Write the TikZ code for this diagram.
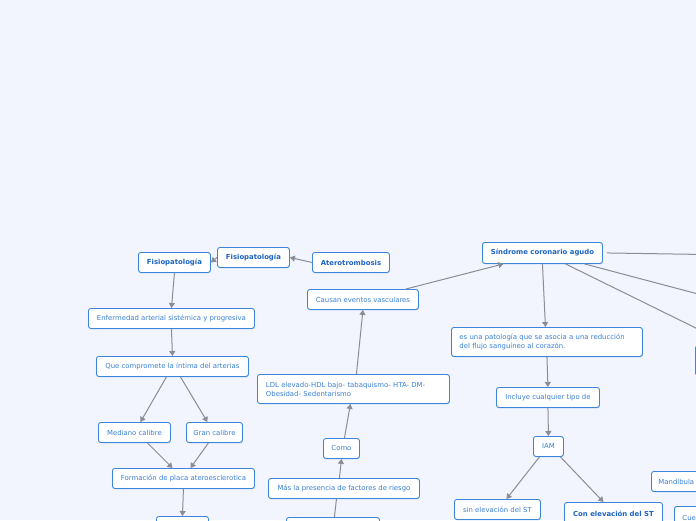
\documentclass[tikz,border=0pt]{standalone}
\usepackage{fontspec}
\setmainfont{DejaVu Sans}
\usetikzlibrary{arrows.meta,shadows}
\definecolor{bg}{HTML}{F2F5FE}
\definecolor{boxblue}{HTML}{3B86DA}
\definecolor{txtblue}{HTML}{3A80D4}
\definecolor{boldblue}{HTML}{1C63C2}
\definecolor{linegray}{HTML}{8A8D96}
\newcommand{\fs}{\fontsize{6.9}{9}\selectfont}
\tikzset{
  box/.style={draw=boxblue, line width=0.9pt, fill=white, rounded corners=2.5pt,
    inner sep=0pt, anchor=north west, text=txtblue, font=\fs,
    drop shadow={shadow xshift=0.3pt, shadow yshift=-0.9pt, opacity=0.25, fill=boxblue}},
  bbox/.style={box, text=boldblue, font=\fs\bfseries},
  conn/.style={draw=linegray, line width=1pt},
  arr/.style={conn, -{Triangle[length=5pt,width=6pt]}},
}
\begin{document}
\begin{tikzpicture}[x=1pt,y=-1pt]
\useasboundingbox (0,0) rectangle (696,520);
\fill[bg] (0,0) rectangle (696,520);
\clip (0,0) rectangle (696,520);

% left branch
\node[bbox, minimum width=72pt, minimum height=20pt] (fis1) at (138,252) {Fisiopatología};
\node[bbox, minimum width=72pt, minimum height=20pt] (fis2) at (217,247) {Fisiopatología};
\node[bbox, minimum width=77pt, minimum height=20pt] (ate) at (312,252) {Aterotrombosis};
\node[box, minimum width=166pt, minimum height=20pt] (enf) at (88,308) {Enfermedad arterial sistémica y progresiva};
\node[box, minimum width=152pt, minimum height=20pt] (que) at (96,356) {Que compromete la íntima del arterias};
\node[box, minimum width=72pt, minimum height=20pt] (med) at (98,422) {Mediano calibre};
\node[box, minimum width=56pt, minimum height=20pt] (gran) at (186,422) {Gran calibre};
\node[box, minimum width=142pt, minimum height=20pt] (form) at (112,468) {Formación de placa ateroesclerotica};
\node[box, minimum width=52pt, minimum height=22pt] (b1) at (156,516) {};

% middle branch
\node[box, minimum width=111pt, minimum height=20pt] (cau) at (307,289) {Causan eventos vasculares};
\node[box, minimum width=192pt, minimum height=29pt, text width=175pt, align=left] (ldl) at (257,374) {LDL elevado-HDL bajo- tabaquismo- HTA- DM-\\Obesidad- Sedentarismo};
\node[box, minimum width=36pt, minimum height=20pt] (como) at (323,438) {Como};
\node[box, minimum width=151pt, minimum height=20pt] (mas) at (268,478) {Más la presencia de factores de riesgo};
\node[box, minimum width=93pt, minimum height=22pt] (b2) at (286,517) {};

% right branch
\node[bbox, minimum width=120pt, minimum height=21pt] (sca) at (482,242) {Síndrome coronario agudo};
\node[box, minimum width=191pt, minimum height=29pt, text width=175pt, align=left] (esuna) at (451,327) {es una patología que se asocia a una reducción\\del flujo sanguíneo al corazón.};
\node[box, minimum width=103pt, minimum height=20pt] (inc) at (496,387) {Incluye cualquier tipo de};
\node[box, minimum width=30pt, minimum height=20pt] (iam) at (533,436) {IAM};
\node[box, minimum width=86pt, minimum height=20pt] (sin) at (454,499) {sin elevación del ST};
\node[bbox, minimum width=98pt, minimum height=22pt] (con) at (564,502) {Con elevación del ST};
\node[box, minimum width=80pt, minimum height=20pt, text width=66pt, align=left] (mand) at (651,471) {Mandíbula};
\node[box, minimum width=60pt, minimum height=22pt, text width=44pt, align=left] (cue) at (674,506) {Cuello};
\node[box, minimum width=70pt, minimum height=30pt] (rnode) at (695,345) {};
\coordinate (rh) at (800,256);
\coordinate (rd) at (800,321);

% connectors
\draw[arr] (ate.west) -- (fis2.east);
\draw[arr] (fis2.west) -- (fis1.east);
\draw[arr] (fis1.south) -- (enf.north);
\draw[arr] (enf.south) -- (que.north);
\draw[arr] ([xshift=-6pt]que.south) -- ([xshift=6pt]med.north);
\draw[arr] ([xshift=8pt]que.south) -- ([xshift=-7pt]gran.north);
\draw[arr] ([xshift=13pt]med.south) -- ([xshift=-11pt]form.north);
\draw[arr] ([xshift=-6pt]gran.south) -- ([xshift=7pt]form.north);
\draw[arr] (form.south) -- (b1.north);

\draw[arr] ([xshift=43pt]cau.north) -- ([xshift=-39pt]sca.south);
\draw[arr] ([xshift=3pt]ldl.north) -- (cau.south);
\draw[arr] ([xshift=3pt]como.north) -- ([xshift=-3pt]ldl.south);
\draw[arr] ([xshift=-4.5pt]mas.north) -- (como.south);
\draw[conn] ([xshift=1.5pt]b2.north) -- ([xshift=-7.5pt]mas.south);

\draw[arr] (sca.south) -- ([xshift=-1.5pt]esuna.north);
\draw[arr] (esuna.south) -- (inc.north);
\draw[arr] (inc.south) -- (iam.north);
\draw[arr] ([xshift=-9pt]iam.south) -- ([xshift=9pt]sin.north);
\draw[arr] ([xshift=12pt]iam.south) -- ([xshift=-10pt]con.north);
\draw[arr] ([xshift=4pt]sca.east) -- (rh);
\draw[arr] ([xshift=42pt]sca.south) -- (rd);
\draw[arr] ([xshift=23pt]sca.south) -- (rnode.north);
\end{tikzpicture}
\end{document}
